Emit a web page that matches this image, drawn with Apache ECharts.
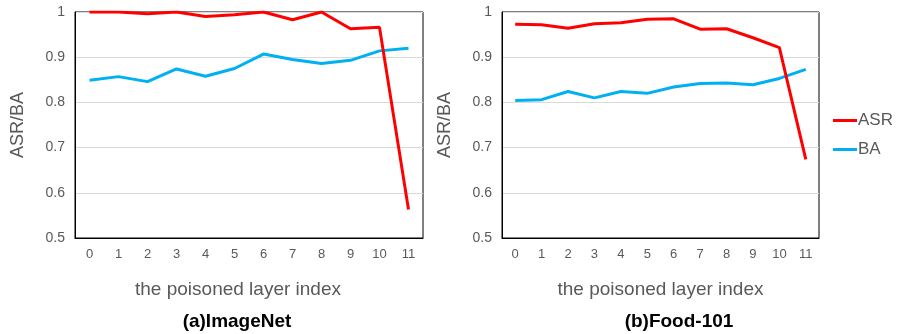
<!DOCTYPE html>
<html>
<head>
<meta charset="utf-8">
<script src="https://cdn.jsdelivr.net/npm/echarts@6/dist/echarts.min.js"></script>
<style>
html,body{margin:0;padding:0;background:#fff;}
#c{width:897px;height:334px;}
</style>
</head>
<body>
<div id="c"></div>
<script>
const layers = ['0','1','2','3','4','5','6','7','8','9','10','11'];
const imagenetASR = [1.0, 1.0, 0.996, 1.0, 0.990, 0.994, 1.0, 0.983, 1.0, 0.963, 0.966, 0.563];
const imagenetBA  = [0.849, 0.857, 0.846, 0.874, 0.858, 0.875, 0.907, 0.895, 0.886, 0.893, 0.914, 0.920];
const foodASR = [0.973, 0.972, 0.964, 0.974, 0.976, 0.984, 0.985, 0.962, 0.963, 0.943, 0.921, 0.674];
const foodBA  = [0.804, 0.806, 0.824, 0.810, 0.824, 0.820, 0.834, 0.842, 0.843, 0.839, 0.853, 0.873];
const yTicks = [0.5, 0.6, 0.7, 0.8, 0.9, 1];
const subtitles = ['(a)ImageNet', '(b)Food-101'];
const xName = 'the poisoned layer index';
const yName = 'ASR/BA';

const FONT = '"Liberation Sans", Arial, sans-serif';
const TXT = '#595959';
const RED = '#FF0000';
const BLUE = '#00B0F0';

function xAxis(gi, pad) {
  return {
    type: 'category', gridIndex: gi, data: layers, boundaryGap: true,
    axisLine: {show: true, lineStyle: {color: '#000', width: 1}},
    axisTick: {show: false},
    axisLabel: {color: TXT, fontSize: 13, fontFamily: FONT, margin: 10},
    name: xName, nameLocation: 'middle', nameGap: 42,
    nameTextStyle: {color: TXT, fontSize: 19, fontFamily: FONT, padding: pad}
  };
}
function yAxis(gi) {
  return {
    type: 'value', gridIndex: gi, min: yTicks[0], max: yTicks[yTicks.length - 1], interval: 0.1,
    axisLine: {show: true, lineStyle: {color: '#000', width: 1}},
    axisTick: {show: false},
    splitLine: {show: true, lineStyle: {color: '#d9d9d9', width: 1}},
    axisLabel: {color: TXT, fontSize: 14, fontFamily: FONT, margin: 10,
      formatter: v => (Math.round(v * 10) / 10).toString()},
    name: yName, nameLocation: 'middle', nameGap: 48, nameRotate: 90,
    nameTextStyle: {color: TXT, fontSize: 18, fontFamily: FONT}
  };
}
function line(name, data, color, gi) {
  return {
    name: name, type: 'line', xAxisIndex: gi, yAxisIndex: gi, data: data,
    symbol: 'none', smooth: false, lineStyle: {color: color, width: 3}, itemStyle: {color: color},
    z: name === 'ASR' ? 3 : 2
  };
}

const chart = echarts.init(document.getElementById('c'));
chart.setOption({
  animation: false,
  backgroundColor: '#fff',
  title: [
    {text: subtitles[0], left: 232, top: 307, textAlign: 'center',
      textStyle: {fontSize: 19, fontWeight: 'bold', color: '#000', fontFamily: FONT}},
    {text: subtitles[1], left: 674, top: 307, textAlign: 'center',
      textStyle: {fontSize: 19, fontWeight: 'bold', color: '#000', fontFamily: FONT}}
  ],
  legend: {
    orient: 'vertical', left: 833, top: 112, padding: 0, itemWidth: 24, itemHeight: 16, itemGap: 12,
    data: [
      {name: 'ASR', icon: 'path://M0,0 L24,0 L24,3 L0,3 Z'},
      {name: 'BA', icon: 'path://M0,0 L24,0 L24,3 L0,3 Z'}
    ],
    textStyle: {color: TXT, fontSize: 17, fontFamily: FONT, padding: [0, 0, 0, -4]}
  },
  grid: [
    {left: 75, top: 12, width: 348, height: 226, show: true, borderColor: '#000', borderWidth: 1, backgroundColor: 'transparent'},
    {left: 502, top: 12, width: 317, height: 226, show: true, borderColor: '#000', borderWidth: 1, backgroundColor: 'transparent'}
  ],
  xAxis: [xAxis(0, [0, 22, 0, 0]), xAxis(1, 0)],
  yAxis: [yAxis(0), yAxis(1)],
  series: [
    line('ASR', imagenetASR, RED, 0),
    line('BA', imagenetBA, BLUE, 0),
    line('ASR', foodASR, RED, 1),
    line('BA', foodBA, BLUE, 1)
  ]
});
</script>
</body>
</html>
